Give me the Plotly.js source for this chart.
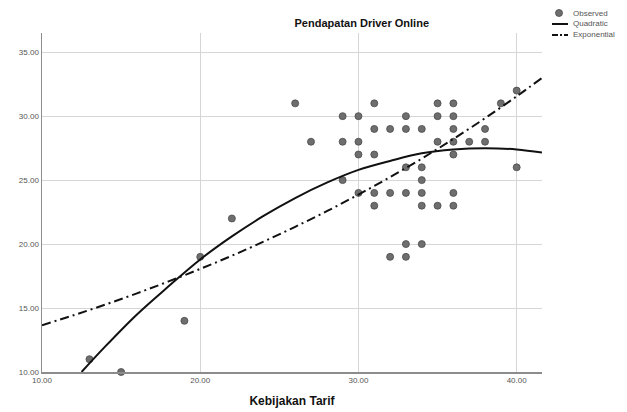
<!DOCTYPE html>
<html>
<head>
<meta charset="utf-8">
<script src="https://cdn.plot.ly/plotly-3.0.1.min.js"></script>
<style>html,body{margin:0;padding:0;background:#fff;}#chart{width:627px;height:412px;}</style>
</head>
<body>
<div id="chart"></div>
<script>
// Observed points (Kebijakan Tarif, Pendapatan Driver Online)
const obsX = [13,15,19,20,22,26,27,
  29,29,29, 30,30,30,30, 31,31,31,31,31, 32,32,32,
  33,33,33,33,33,33, 34,34,34,34,34,34, 35,35,35,35,
  36,36,36,36,36,36,36, 37, 38,38, 39, 40,40];
const obsY = [11,10,14,19,22,31,28,
  30,28,25, 30,28,27,24, 31,29,27,24,23, 29,24,19,
  30,29,26,24,20,19, 29,26,25,24,23,20, 31,30,28,23,
  31,30,29,28,27,24,23, 28, 29,28, 31, 32,26];

// Quadratic fit curve
const quadX = [12.5,14,16,18,20,22,24,26,28,30,32,34,36,38,40,41.6];
const quadY = [10.0,12.0,14.5,16.7,18.8,20.6,22.2,23.6,24.8,25.8,26.5,27.1,27.4,27.5,27.4,27.15];

// Exponential fit curve
const expX = [10,12,14,16,18,20,22,24,26,28,30,32,34,36,38,40,41.6];
const expY = [13.66,14.44,15.27,16.15,17.08,18.06,19.09,20.19,21.35,22.57,23.87,25.24,26.68,28.22,29.84,31.55,32.99];

const xTicks = [10,20,30,40];
const xTickText = ["10.00","20.00","30.00","40.00"];
const yTicks = [10,15,20,25,30,35];
const yTickText = ["10.00","15.00","20.00","25.00","30.00","35.00"];

const legendNames = ["Observed","Quadratic","Exponential"];

const FONT = "Liberation Sans, Arial, sans-serif";
const LINE_DASH = '9px,4px,2px,4px';

const traces = [
  {x: obsX, y: obsY, type: 'scatter', mode: 'markers', name: legendNames[0],
   marker: {size: 7, color: '#6e6e6e', line: {color: '#4a4a4a', width: 0.8}},
   cliponaxis: false},
  {x: quadX, y: quadY, type: 'scatter', mode: 'lines', name: legendNames[1],
   line: {color: '#111', width: 2, shape: 'spline'}},
  {x: expX, y: expY, type: 'scatter', mode: 'lines', name: legendNames[2],
   line: {color: '#111', width: 2, dash: LINE_DASH, shape: 'spline'}}
];

// Compact legend (SPSS style) placed in the right margin
const PL = 42, PW = 500, PT = 33, PH = 339;
const px2x = p => (p - PL) / PW;
const py2y = p => (PT + PH - p) / PH;
const legRows = [13, 24, 35];
const shapes = [
  {type: 'circle', xref: 'paper', yref: 'paper', xsizemode: 'pixel', ysizemode: 'pixel',
   xanchor: px2x(559), yanchor: py2y(legRows[0]), x0: -3.5, x1: 3.5, y0: -3.5, y1: 3.5,
   fillcolor: '#6e6e6e', line: {color: '#4a4a4a', width: 0.8}},
  {type: 'line', xref: 'paper', yref: 'paper', x0: px2x(552), x1: px2x(568),
   y0: py2y(legRows[1]), y1: py2y(legRows[1]), line: {color: '#111', width: 2}},
  {type: 'line', xref: 'paper', yref: 'paper', x0: px2x(552), x1: px2x(568),
   y0: py2y(legRows[2]), y1: py2y(legRows[2]), line: {color: '#111', width: 2, dash: '6px,2px,2px,2px'}}
];
const annotations = legendNames.map((n, i) => ({
  text: n, xref: 'paper', yref: 'paper', x: px2x(571), y: py2y(legRows[i]),
  xanchor: 'left', yanchor: 'middle', showarrow: false,
  font: {family: FONT, size: 8, color: '#555'}
}));

const layout = {
  width: 627, height: 412,
  margin: {l: PL, r: 627 - PL - PW, t: PT, b: 412 - PT - PH, pad: 0},
  paper_bgcolor: '#fff', plot_bgcolor: '#fff',
  font: {family: FONT, size: 8, color: '#444'},
  title: {text: 'Pendapatan Driver Online', x: 0.577, xref: 'container', xanchor: 'center',
          y: 0.945, yref: 'container', yanchor: 'middle',
          font: {family: FONT, size: 11, color: '#111', weight: 'bold'}},
  xaxis: {range: [10, 41.6], tickvals: xTicks, ticktext: xTickText,
          showgrid: true, gridcolor: '#d6d6d6', gridwidth: 1,
          showline: true, linecolor: '#8c8c8c', linewidth: 1.5,
          zeroline: false, ticks: '', tickfont: {size: 8, color: '#555'},
          title: {text: 'Kebijakan Tarif', standoff: 12,
                  font: {family: FONT, size: 12, color: '#111', weight: 'bold'}}},
  yaxis: {range: [10, 36.5], tickvals: yTicks, ticktext: yTickText,
          showgrid: true, gridcolor: '#d6d6d6', gridwidth: 1,
          showline: true, linecolor: '#8c8c8c', linewidth: 1.5,
          zeroline: false, ticks: '', tickfont: {size: 8, color: '#555'}},
  showlegend: false,
  shapes: shapes,
  annotations: annotations
};

Plotly.newPlot('chart', traces, layout, {displayModeBar: false, staticPlot: true});
</script>
</body>
</html>
